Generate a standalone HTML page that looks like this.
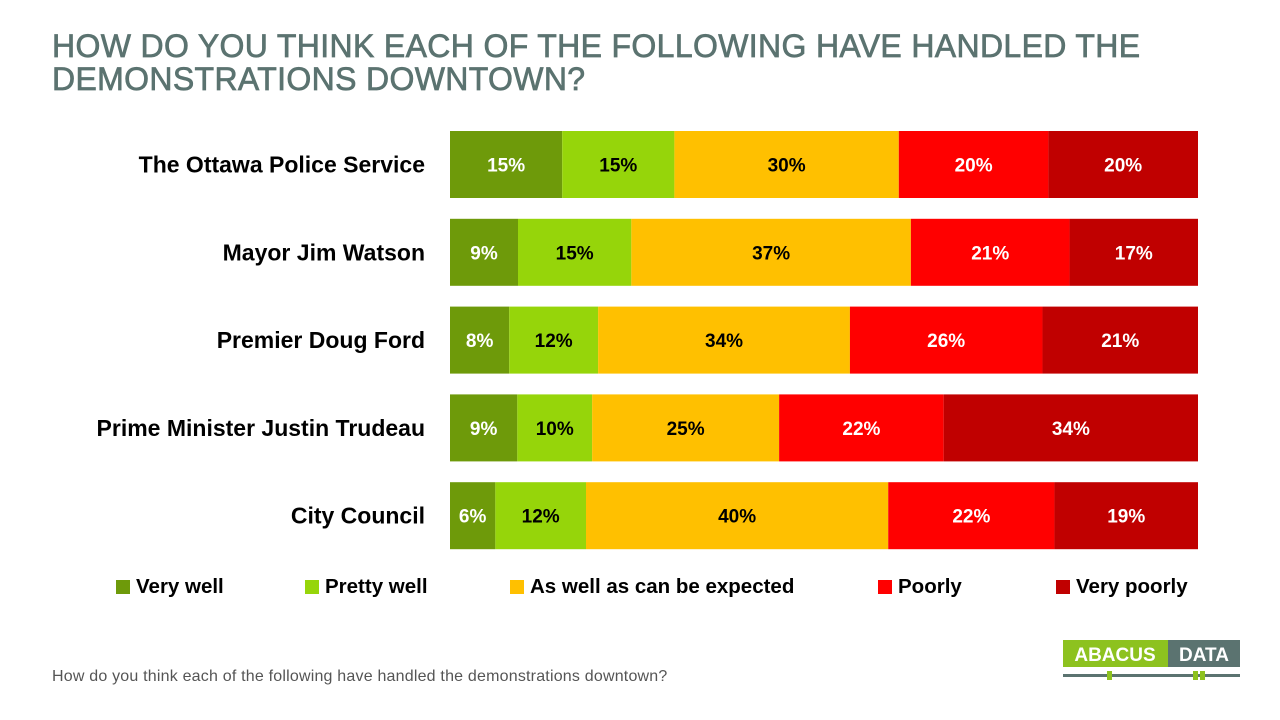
<!DOCTYPE html>
<html><head><meta charset="utf-8"><style>
body{margin:0;width:1280px;height:720px;background:#fff;font-family:"Liberation Sans",sans-serif;position:relative;overflow:hidden}
#title{position:absolute;left:52px;top:30px;font-size:32px;line-height:33px;color:#5b7370;font-weight:normal;letter-spacing:0.35px;-webkit-text-stroke:0.7px #5b7370}
#foot{position:absolute;left:52px;top:668px;font-size:16px;color:#555;letter-spacing:0.2px}
</style></head><body>
<div id="title">HOW DO YOU THINK EACH OF THE FOLLOWING HAVE HANDLED THE<br>DEMONSTRATIONS DOWNTOWN?</div>
<svg id="chart" width="1280" height="720" style="position:absolute;left:0;top:0"></svg>
<div id="foot">How do you think each of the following have handled the demonstrations downtown?</div>
<svg width="1280" height="720" style="position:absolute;left:0;top:0;pointer-events:none">
<rect x="1063" y="640" width="105" height="27" fill="#8dc21f"/>
<rect x="1168" y="640" width="72" height="27" fill="#5b7370"/>
<text x="1115" y="661" text-anchor="middle" font-size="19" font-weight="bold" fill="#fff" font-family="Liberation Sans">ABACUS</text>
<text x="1204" y="661" text-anchor="middle" font-size="19" font-weight="bold" fill="#fff" font-family="Liberation Sans">DATA</text>
<rect x="1063" y="674" width="177" height="3" fill="#5b7370"/>
<rect x="1107" y="671" width="5" height="9" fill="#8dc21f"/>
<rect x="1193" y="671" width="5" height="9" fill="#8dc21f"/>
<rect x="1200" y="671" width="5" height="9" fill="#8dc21f"/>
</svg>
<script>
const categories=["The Ottawa Police Service","Mayor Jim Watson","Premier Doug Ford","Prime Minister Justin Trudeau","City Council"];
const seriesNames=["Very well","Pretty well","As well as can be expected","Poorly","Very poorly"];
const veryWell=[15,9,8,9,6];
const prettyWell=[15,15,12,10,12];
const asExpected=[30,37,34,25,40];
const poorly=[20,21,26,22,22];
const veryPoorly=[20,17,21,34,19];
const series=[veryWell,prettyWell,asExpected,poorly,veryPoorly];
const colors=["#6e9a0a","#96d50a","#ffc000","#ff0000","#c00000"];
const textColors=["#fff","#000","#000","#fff","#fff"];
const legendX=[116,305,510,878,1056];
const ns="http://www.w3.org/2000/svg";
const svg=document.getElementById('chart');
const x0=450,plotW=748,y0=131,pitch=87.8,barH=67;
function xScale(v,total){return v/total*plotW;}
function yScale(i){return y0+i*pitch;}
function mk(t,a){const e=document.createElementNS(ns,t);for(const k in a)e.setAttribute(k,a[k]);svg.appendChild(e);return e;}
categories.forEach((c,i)=>{
  const y=yScale(i);
  const lab=mk('text',{x:425,y:y+barH/2+8,'text-anchor':'end','font-size':23,'font-weight':'bold',fill:'#000'});
  lab.textContent=c;
  
  
  let total=0;series.forEach(s=>total+=s[i]);
  let cx=x0;
  series.forEach((s,j)=>{
    const w=xScale(s[i],total);
    const r=mk('rect',{x:cx,y:y,width:w,height:barH,fill:colors[j]});
    
    
    const t=mk('text',{x:cx+w/2,y:y+barH/2+7,'text-anchor':'middle','font-size':19,'font-weight':'bold',fill:textColors[j]});
    t.textContent=s[i]+'%';
    
    
    cx+=w;
  });
});
seriesNames.forEach((n,j)=>{
  const r=mk('rect',{x:legendX[j],y:580,width:14,height:14,fill:colors[j]});
  
  
  const t=mk('text',{x:legendX[j]+20,y:593,'font-size':20.5,'font-weight':'bold',fill:'#000'});
  t.textContent=n;
  
  
});
</script>
</body></html>
